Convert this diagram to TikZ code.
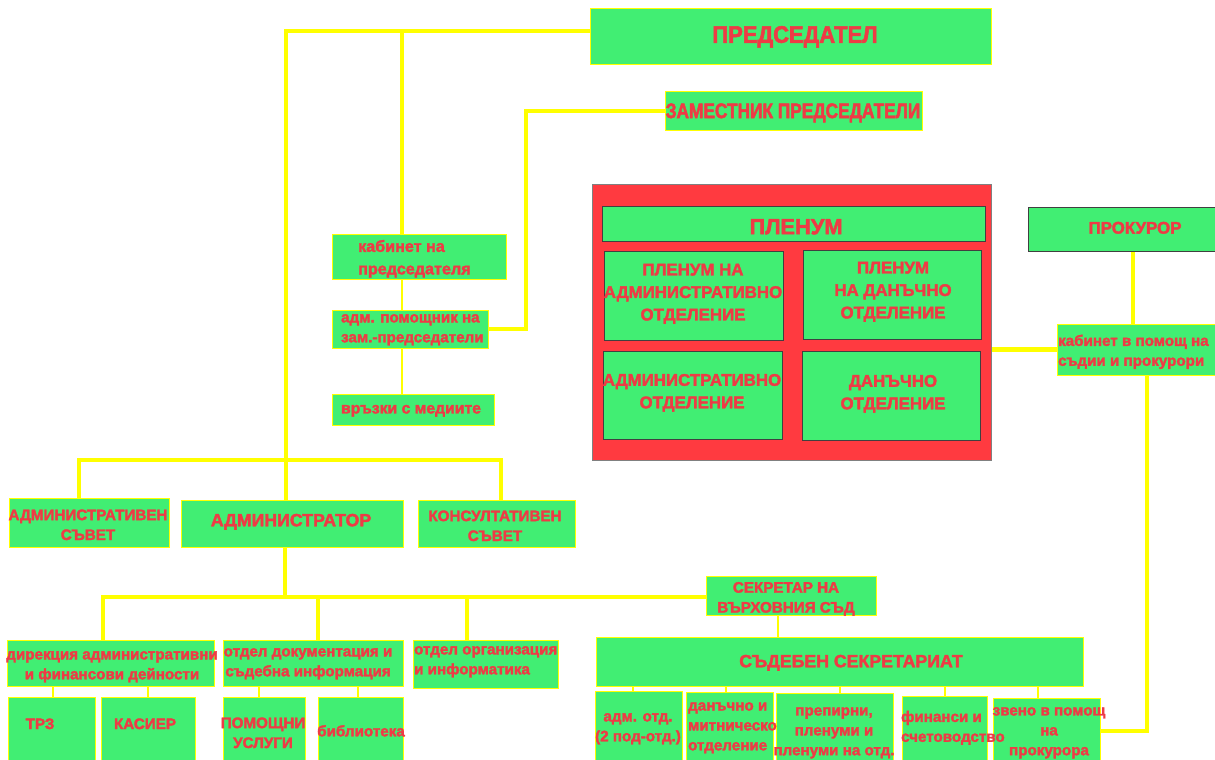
\documentclass[tikz,border=0pt]{standalone}
\usepackage{fontspec}
\setmainfont{Liberation Sans}[BoldFeatures={FakeBold=2.2}]
\newfontfamily\narrowf{Liberation Sans}[FakeStretch=0.92,BoldFeatures={FakeBold=2.2}]
\newfontfamily\narrowg{Liberation Sans}[FakeStretch=0.82,BoldFeatures={FakeBold=2.2}]
\usetikzlibrary{fit}
\pgfdeclarelayer{bg}
\pgfsetlayers{bg,main}
\definecolor{gr}{HTML}{41EE73}
\definecolor{rd}{HTML}{EE3B45}
\definecolor{pr}{HTML}{FF3A40}
\definecolor{yl}{HTML}{FFFF00}
\begin{document}
\begin{tikzpicture}[x=0.05cm,y=-0.05cm,
  bx/.style={draw=yl, line width=1.2pt, fill=gr, inner sep=0pt},
  dbx/.style={bx, draw=black!75},
  conn/.style={draw=yl, line width=7pt},
  thin/.style={draw=yl, line width=1.6pt},
  tx/.style={text=rd, inner sep=0pt, align=center, yshift=-2.6pt},
  fa/.style={font=\narrowf\bfseries\fontsize{34}{38}\selectfont},
  fb/.style={font=\narrowg\bfseries\fontsize{30}{34}\selectfont},
  f20/.style={font=\bfseries\fontsize{31}{34}\selectfont},
  f17/.style={font=\bfseries\fontsize{25.2}{30}\selectfont},
  f16/.style={font=\bfseries\fontsize{24}{32}\selectfont},
  f15/.style={font=\bfseries\fontsize{23}{32}\selectfont},
  f14/.style={font=\bfseries\fontsize{21.6}{28.3}\selectfont}]
\useasboundingbox (0,0) rectangle (1215,760);
\clip (0,0) rectangle (1215,760);
% ---------------- boxes
\node[bx, fit={(590,8) (991,64)}] (pred) {};
\node[bx, fit={(665,91) (922,130)}] (zam) {};
\node[bx, fit={(332,234) (506,279)}] (kab) {};
\node[bx, fit={(332,310) (488,348)}] (pom) {};
\node[bx, fit={(332,394) (494,425)}] (med) {};
\node[draw=black!50, line width=1pt, fill=pr, inner sep=0pt, fit={(592,184) (991,460)}] (plen) {};
\node[dbx, fit={(602,206) (985,241)}] (plt) {};
\node[dbx, fit={(604,251) (783,340)}] (pla) {};
\node[dbx, fit={(803,250) (981,339)}] (pld) {};
\node[dbx, fit={(603,351) (782,439)}] (oa) {};
\node[dbx, fit={(802,351) (980,440)}] (od) {};
\node[dbx, fit={(1028,207) (1240,251)}] (prok) {};
\node[bx, fit={(1057,324) (1240,375)}] (kabp) {};
\node[bx, fit={(9,498) (169,547)}] (advs) {};
\node[bx, fit={(181,500) (403,547)}] (admr) {};
\node[bx, fit={(418,500) (575,547)}] (kons) {};
\node[bx, fit={(706,576) (876,615)}] (sek) {};
\node[bx, fit={(7,640) (214,686)}] (direk) {};
\node[bx, fit={(223,640) (403,686)}] (dok) {};
\node[bx, fit={(413,640) (558,688)}] (org) {};
\node[bx, fit={(596,637) (1083,686)}] (sud) {};
\node[bx, fit={(8,697) (95,790)}] (trz) {};
\node[bx, fit={(101,697) (195,790)}] (kas) {};
\node[bx, fit={(223,697) (305,790)}] (pomu) {};
\node[bx, fit={(318,697) (403,790)}] (bib) {};
\node[bx, fit={(595,691) (682,790)}] (adm) {};
\node[bx, fit={(686,692) (773,790)}] (dan) {};
\node[bx, fit={(776,693) (893,790)}] (prep) {};
\node[bx, fit={(902,696) (987,790)}] (fin) {};
\node[bx, fit={(993,698) (1100,790)}] (zven) {};
% ---------------- texts
\node[tx, fa] (predT) at (795,35) {ПРЕДСЕДАТЕЛ};
\node[tx, fb] (zamT) at (793,111) {ЗАМЕСТНИК ПРЕДСЕДАТЕЛИ};
\node[tx, f15, align=left, anchor=west] (kabT) at (358,257) {кабинет на\\председателя};
\node[tx, f14, align=left, anchor=west] (pomT) at (341,328) {адм. помощник на\\зам.-председатели};
\node[tx, font=\bfseries\fontsize{22.4}{28}\selectfont] (medT) at (411,409) {връзки с медиите};
\node[tx, f20] (pltT) at (796,225) {ПЛЕНУМ};
\node[tx, f16] (plaT) at (693,292) {ПЛЕНУМ НА\\АДМИНИСТРАТИВНО\\ОТДЕЛЕНИЕ};
\node[tx, f16] (pldT) at (893,290) {ПЛЕНУМ\\НА ДАНЪЧНО\\ОТДЕЛЕНИЕ};
\node[tx, f16] (oaT) at (692,391) {АДМИНИСТРАТИВНО\\ОТДЕЛЕНИЕ};
\node[tx, f16] (odT) at (893,392) {ДАНЪЧНО\\ОТДЕЛЕНИЕ};
\node[tx, f16] (prokT) at (1135,226) {ПРОКУРОР};
\node[tx, f14, align=left, anchor=west] (kabpT) at (1058,350) {кабинет в помощ на\\съдии и прокурори};
\node[tx, f14] (advsT) at (88,523) {АДМИНИСТРАТИВЕН\\СЪВЕТ};
\node[tx, f17] (admrT) at (291,520) {АДМИНИСТРАТОР};
\node[tx, f14] (konsT) at (495,524) {КОНСУЛТАТИВЕН\\СЪВЕТ};
\node[tx, f14] (sekT) at (786,597) {СЕКРЕТАР НА\\ВЪРХОВНИЯ СЪД};
\node[tx, f14] (direkT) at (112,665) {дирекция административни\\и финансови дейности};
\node[tx, f14] (dokT) at (308,662) {отдел документация и\\съдебна информация};
\node[tx, f14, align=left, anchor=west] (orgT) at (414,660) {отдел организация\\и информатика};
\node[tx, f17] (sudT) at (851,661) {СЪДЕБЕН СЕКРЕТАРИАТ};
\node[tx, f14] (trzT) at (40,722) {ТРЗ};
\node[tx, f14] (kasT) at (145,722) {КАСИЕР};
\node[tx, f14] (pomuT) at (263,731) {ПОМОЩНИ\\УСЛУГИ};
\node[tx, f14] (bibT) at (361,729) {библиотека};
\node[tx, f14] (admT) at (638,727) {адм. отд.\\(2 под-отд.)};
\node[tx, f14, align=left, anchor=west] (danT) at (688,726) {данъчно и\\митническо\\отделение};
\node[tx, f14] (prepT) at (834,731) {препирни,\\пленуми и\\пленуми на отд.};
\node[tx, f14, align=left, anchor=west] (finT) at (901,726) {финанси и\\счетоводство};
\node[tx, f14] (zvenT) at (1049,731) {звено в помощ\\на\\прокурора};
% ---------------- connectors
\begin{pgfonlayer}{bg}
\coordinate (j1) at (286,31);
\coordinate (j2) at (402,31);
\coordinate (j3) at (526,111);
\coordinate (b1) at (79,460);
\coordinate (b2) at (501,460);
\coordinate (j5) at (285,597);
\coordinate (c1) at (103,597);
\coordinate (c2) at (318,597);
\coordinate (c3) at (467,597);
\coordinate (p1) at (1133,300);
\coordinate (p2) at (1147,731);
\draw[conn] (pred.west |- j1) -- (j1) -- (j1 |- admr.north);
\draw[conn] (j2) -- (j2 |- kab.north);
\draw[thin] (j2 |- kab.south) -- (j2 |- pom.north);
\draw[thin] (j2 |- pom.south) -- (j2 |- med.north);
\draw[conn] (zam.west |- j3) -- (j3) |- (pom.east);
\draw[conn] (b1 |- advs.north) -- (b1) -- (b2) -- (b2 |- kons.north);
\draw[conn] (j5 |- admr.south) -- (j5);
\draw[conn] (c1 |- direk.north) -- (c1) -- (sek.west |- c1);
\draw[conn] (c2) -- (c2 |- dok.north);
\draw[conn] (c3) -- (c3 |- org.north);
\draw[thin] (sek.south -| 778,0) -- (sud.north -| 778,0);
\foreach \x/\n in {633/adm,726/dan,840/prep,945/fin,1038/zven}
  \draw[thin] (sud.south -| \x,0) -- (\n.north -| \x,0);
\foreach \x/\n in {53/trz,148/kas}
  \draw[thin] (direk.south -| \x,0) -- (\n.north -| \x,0);
\foreach \x/\n in {259/pomu,358/bib}
  \draw[thin] (dok.south -| \x,0) -- (\n.north -| \x,0);
\draw[conn] (plen.east |- kabp.west) -- (kabp.west);
\draw[conn] (prok.south -| p1) -- (kabp.north -| p1);
\draw[conn] (kabp.south -| p2) -- (p2) -- (zven.east |- p2);
\end{pgfonlayer}
\end{tikzpicture}
\end{document}
